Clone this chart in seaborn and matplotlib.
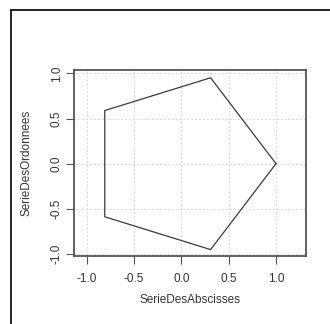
import matplotlib
matplotlib.use("Agg")
import matplotlib.pyplot as plt
import seaborn as sns
import pandas as pd
from matplotlib.lines import Line2D

# pentagon vertices (closed path)
SerieDesAbscisses = [1.0, 0.309, -0.809, -0.809, 0.309, 1.0]
SerieDesOrdonnees = [0.0, 0.951, 0.588, -0.588, -0.951, 0.0]
ticks = [-1.0, -0.5, 0.0, 0.5, 1.0]
tick_labels = ["-1.0", "-0.5", "0.0", "0.5", "1.0"]

df = pd.DataFrame({"SerieDesAbscisses": SerieDesAbscisses,
                   "SerieDesOrdonnees": SerieDesOrdonnees})

sns.set_style("white")
plt.rcParams["font.family"] = ["Liberation Sans", "DejaVu Sans"]

fig = plt.figure(figsize=(3.3, 3.24), dpi=100)
ax = fig.add_axes([74 / 330, 1 - 256 / 324, 232 / 330, 186 / 324])

sns.lineplot(data=df, x="SerieDesAbscisses", y="SerieDesOrdonnees", sort=False,
             estimator=None, color="#3a3a3a", linewidth=0.9, ax=ax)

ax.set_xlim(-1.134, 1.317)
ax.set_ylim(-1.022, 1.037)
ax.set_xticks(ticks)
ax.set_xticklabels(tick_labels)
ax.set_yticks(ticks)
ax.set_yticklabels(tick_labels, rotation=90, va="center")
ax.grid(True, color="#d8d8d8", linestyle=(0, (2, 2)), linewidth=0.7)

for s in ax.spines.values():
    s.set_color("#555555")
    s.set_linewidth(1.3)

ax.tick_params(axis="both", direction="out", length=6, width=0.8, color="#555555",
               labelsize=8.5, labelcolor="#333333", bottom=True, left=True)
ax.tick_params(axis="x", pad=6)
ax.tick_params(axis="y", pad=2)

ax.set_xlabel("SerieDesAbscisses", fontsize=8.5, color="#333333", labelpad=7)
ax.set_ylabel("SerieDesOrdonnees", fontsize=8.5, color="#333333", labelpad=13)

# outer frame lines (top and left)
fig.add_artist(Line2D([11 / 330, 1], [1 - 10 / 324, 1 - 10 / 324],
                      transform=fig.transFigure, color="black", linewidth=1.2))
fig.add_artist(Line2D([11 / 330, 11 / 330], [0, 1 - 10 / 324],
                      transform=fig.transFigure, color="black", linewidth=1.2))

fig.savefig("out.png", dpi=100)
